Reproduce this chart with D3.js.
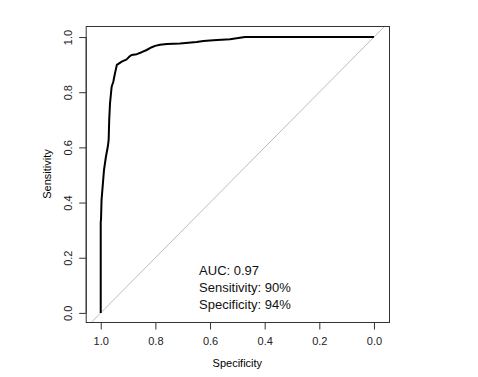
<!DOCTYPE html>
<html>
<head>
<meta charset="utf-8">
<script src="https://cdn.jsdelivr.net/npm/d3@7"></script>
<style>
  body { margin: 0; background: #fff; }
  svg { display: block; font-family: "Liberation Sans", Arial, sans-serif; }
</style>
</head>
<body>
<div id="chart"></div>
<script>
// ROC curve points (specificity, sensitivity)
const specificity = [1.0, 1.0, 0.999, 0.997, 0.993, 0.988, 0.981, 0.974, 0.971, 0.969, 0.966, 0.96, 0.954, 0.948, 0.941,
  0.923, 0.905, 0.893, 0.887, 0.868, 0.85, 0.832, 0.813, 0.801, 0.783, 0.758, 0.71, 0.649, 0.624, 0.588, 0.527, 0.472, 0.0];
const sensitivity = [0.0, 0.33, 0.338, 0.41, 0.458, 0.518, 0.566, 0.603, 0.627, 0.699, 0.76, 0.82, 0.838, 0.868, 0.899,
  0.911, 0.919, 0.931, 0.935, 0.938, 0.945, 0.953, 0.963, 0.968, 0.972, 0.975, 0.977, 0.982, 0.986, 0.988, 0.992, 1.0, 1.0];

const xTicks = [1.0, 0.8, 0.6, 0.4, 0.2, 0.0];
const yTicks = [0.0, 0.2, 0.4, 0.6, 0.8, 1.0];
const annotations = ["AUC: 0.97", "Sensitivity: 90%", "Specificity: 94%"];
const annotationY = [0.155, 0.094, 0.032];

const W = 478, H = 377;
const svg = d3.select("#chart").append("svg").attr("width", W).attr("height", H);

// scales (reversed specificity like pROC)
const x = d3.scaleLinear().domain([1.055, -0.055]).range([85.7, 389]);
const y = d3.scaleLinear().domain([-0.033, 1.04]).range([322, 26]);

const [x0, x1] = x.range();
const [y0, y1] = y.range();

svg.append("clipPath").attr("id", "plotclip")
  .append("rect").attr("x", x0).attr("y", y1).attr("width", x1 - x0).attr("height", y0 - y1);

// diagonal reference
svg.append("line")
  .attr("clip-path", "url(#plotclip)")
  .attr("x1", x(1.1)).attr("y1", y(-0.1))
  .attr("x2", x(-0.1)).attr("y2", y(1.1))
  .attr("stroke", "#bdbdbd").attr("stroke-width", 1);

// ROC curve
const pts = specificity.map((s, i) => [s, sensitivity[i]]);
svg.append("path")
  .datum(pts)
  .attr("fill", "none")
  .attr("stroke", "#000")
  .attr("stroke-width", 2)
  .attr("stroke-linejoin", "round")
  .attr("d", d3.line().x(d => x(d[0])).y(d => y(d[1])));

// box
svg.append("rect")
  .attr("x", x0 + 0.5).attr("y", y1 + 0.5)
  .attr("width", x1 - x0).attr("height", y0 - y1)
  .attr("fill", "none").attr("stroke", "#333").attr("stroke-width", 1);

// x axis
const gx = svg.append("g")
  .attr("transform", `translate(0,${y0 + 0.5})`)
  .call(d3.axisBottom(x).tickValues(xTicks).tickFormat(d3.format(".1f")).tickSize(7).tickPadding(8));
gx.select(".domain")
  .attr("d", `M${x(1)},0H${x(0)}`)
  .attr("stroke", "#333");
gx.selectAll(".tick line").attr("stroke", "#333");
gx.selectAll(".tick text").style("font-size", "11px").attr("fill", "#222");

// y axis
const gy = svg.append("g")
  .attr("transform", `translate(${x0 + 0.5},0)`)
  .call(d3.axisLeft(y).tickValues(yTicks).tickFormat(d3.format(".1f")).tickSize(7).tickPadding(4));
gy.select(".domain")
  .attr("d", `M0,${y(0)}V${y(1)}`)
  .attr("stroke", "#333");
gy.selectAll(".tick line").attr("stroke", "#333");
gy.selectAll(".tick text")
  .style("font-size", "11px").attr("fill", "#222")
  .attr("x", null).attr("dy", null)
  .attr("text-anchor", "middle")
  .attr("transform", "translate(-14,0) rotate(-90)")
  .attr("y", 0);

// axis titles
svg.append("text")
  .attr("x", (x0 + x1) / 2).attr("y", 367)
  .attr("text-anchor", "middle")
  .style("font-size", "11px")
  .text("Specificity");

svg.append("text")
  .attr("transform", `translate(51,${(y0 + y1) / 2}) rotate(-90)`)
  .attr("text-anchor", "middle")
  .style("font-size", "11px")
  .text("Sensitivity");

// annotations
svg.selectAll(".ann")
  .data(annotations)
  .enter().append("text")
  .attr("class", "ann")
  .attr("x", x(0.64))
  .attr("y", (d, i) => y(annotationY[i]))
  .attr("dy", "0.35em")
  .style("font-size", "13px")
  .attr("fill", "#111")
  .text(d => d);
</script>
</body>
</html>
